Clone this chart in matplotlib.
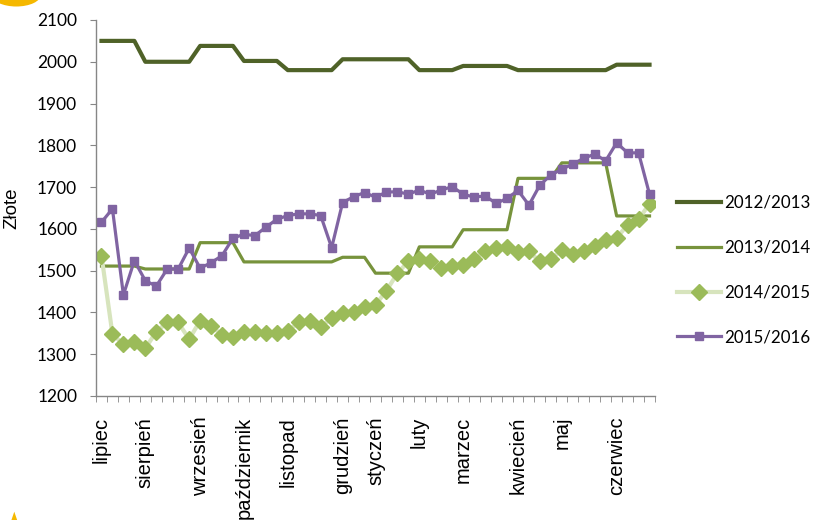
import matplotlib
matplotlib.use("Agg")
import matplotlib.pyplot as plt
from matplotlib.patches import Ellipse, Polygon

# ---- data ----
x_labels = ['lipiec', '', '', '', 'sierpień', '', '', '', '', 'wrzesień', '', '', '',
            'październik', '', '', '', 'listopad', '', '', '', '', 'grudzień', '', '',
            'styczeń', '', '', '', 'luty', '', '', '', 'marzec', '', '', '', '',
            'kwiecień', '', '', '', 'maj', '', '', '', '', 'czerwiec', '', '', '']

s_2012_2013 = [2050, 2050, 2050, 2050, 2000, 2000, 2000, 2000, 2000, 2038, 2038, 2038, 2038,
               2002, 2002, 2002, 2002, 1980, 1980, 1980, 1980, 1980, 2006, 2006, 2006, 2006,
               2006, 2006, 2006, 1980, 1980, 1980, 1980, 1990, 1990, 1990, 1990, 1990, 1980,
               1980, 1980, 1980, 1980, 1980, 1980, 1980, 1980, 1993, 1993, 1993, 1993]

s_2013_2014 = [1511, 1511, 1511, 1511, 1504, 1504, 1504, 1504, 1504, 1567, 1567, 1567, 1567,
               1521, 1521, 1521, 1521, 1521, 1521, 1521, 1521, 1521, 1532, 1532, 1532, 1494,
               1494, 1494, 1494, 1557, 1557, 1557, 1557, 1598, 1598, 1598, 1598, 1598, 1721,
               1721, 1721, 1721, 1758, 1758, 1758, 1758, 1758, 1631, 1631, 1631, 1631]

s_2014_2015 = [1536, 1348, 1324, 1330, 1314, 1354, 1376, 1376, 1336, 1380, 1368, 1346, 1342,
               1354, 1352, 1350, 1350, 1356, 1376, 1380, 1366, 1386, 1398, 1402, 1414, 1418,
               1452, 1494, 1522, 1528, 1524, 1507, 1510, 1514, 1528, 1547, 1555, 1557, 1545,
               1546, 1522, 1529, 1549, 1540, 1548, 1558, 1574, 1578, 1610, 1623, 1660]

s_2015_2016 = [1616, 1648, 1442, 1524, 1476, 1463, 1504, 1504, 1554, 1506, 1519, 1536, 1578,
               1587, 1584, 1604, 1623, 1632, 1636, 1636, 1632, 1555, 1663, 1677, 1687, 1676,
               1688, 1689, 1683, 1693, 1683, 1693, 1701, 1683, 1676, 1679, 1661, 1673, 1692,
               1657, 1705, 1729, 1743, 1755, 1769, 1779, 1763, 1806, 1782, 1782, 1683]

series_names = ['2012/2013', '2013/2014', '2014/2015', '2015/2016']
y_ticks = [1200, 1300, 1400, 1500, 1600, 1700, 1800, 1900, 2000, 2100]

# ---- figure ----
fig = plt.figure(figsize=(8.16, 5.2), dpi=100)
ax = fig.add_axes([96 / 816, 1 - 396 / 520, (655 - 96) / 816, (396 - 20) / 520])

x = list(range(len(x_labels)))
ax.plot(x, s_2012_2013, color='#4F6228', lw=3.0, label=series_names[0])
ax.plot(x, s_2013_2014, color='#77933C', lw=2.3, label=series_names[1])
ax.plot(x, s_2014_2015, color='#D7E4BD', lw=3.0, marker='D', markersize=8.5,
        markerfacecolor='#9BBB59', markeredgecolor='#9BBB59', label=series_names[2])
ax.plot(x, s_2015_2016, color='#8064A2', lw=2.3, marker='s', markersize=6,
        markerfacecolor='#8064A2', markeredgecolor='#8064A2', label=series_names[3])

ax.set_xlim(-0.5, len(x_labels) - 0.5)
ax.set_ylim(1200, 2100)

for s in ['top', 'right']:
    ax.spines[s].set_visible(False)
for s in ['left', 'bottom']:
    ax.spines[s].set_color('#868686')
    ax.spines[s].set_linewidth(1.0)

ax.set_yticks(y_ticks)
ax.set_yticklabels([str(v) for v in y_ticks], fontfamily='Lato', fontsize=12.5)
ax.tick_params(axis='y', direction='out', length=4.5, color='#868686', pad=9)

# category labels (major ticks, no marks) + boundary ticks (minor)
ax.set_xticks(x)
ax.set_xticklabels(x_labels, rotation=90, fontfamily='Liberation Sans', fontsize=14.5)
ax.tick_params(axis='x', which='major', length=0, pad=15)
ax.set_xticks([i - 0.5 for i in range(len(x_labels) + 1)], minor=True)
ax.tick_params(axis='x', which='minor', direction='out', length=4.5, color='#868686')

ax.set_ylabel('Złote', fontfamily='Liberation Sans', fontsize=13.5, labelpad=12)

leg = ax.legend(loc='center left', bbox_to_anchor=(1.028, 0.335), frameon=False,
                prop={'family': 'Lato', 'size': 12.2}, handlelength=2.6,
                handletextpad=0.15, labelspacing=1.7, borderaxespad=0)

# decorative fragments at the figure corners
fig.patches.append(Ellipse((0.02, 1.01), 0.06, 0.045, transform=fig.transFigure,
                           facecolor='#F5B800', edgecolor='none', clip_on=False))
fig.patches.append(Polygon([[0.014, 0.0], [0.021, 0.0], [0.0175, 0.016]],
                           closed=True, transform=fig.transFigure,
                           facecolor='#F5B800', edgecolor='none'))

fig.savefig('out.png', dpi=100)
